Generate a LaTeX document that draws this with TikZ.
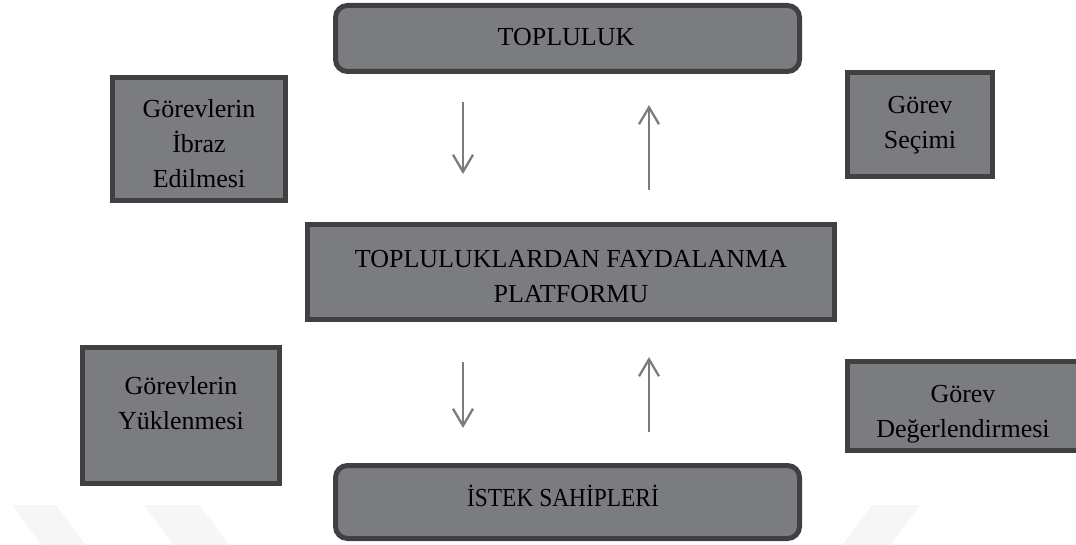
\documentclass[tikz,border=0pt]{standalone}
\usepackage{fontspec}
\setmainfont{Liberation Serif}
\newfontfamily\istekfont[FakeStretch=0.9]{Liberation Serif}
\usetikzlibrary{arrows.meta}
\definecolor{boxfill}{HTML}{7B7C80}
\definecolor{boxline}{HTML}{404042}
\definecolor{arrowgray}{HTML}{7B7C80}
\definecolor{wmark}{HTML}{F6F6F6}
\begin{document}
\begin{tikzpicture}[x=1pt,y=-1pt,
  box/.style={draw=boxline, fill=boxfill, line width=5pt, inner sep=0pt},
  roundbox/.style={box, rounded corners=12pt},
  lbl/.style={inner sep=0pt, align=center, font=\fontsize{26}{35}\selectfont, text=black},
  flow/.style={draw=arrowgray, line width=2.3pt,
    -{Straight Barb[length=17pt,width=20pt,line width=2.3pt]}}]
\clip (0,0) rectangle (1076,545);
\fill[white] (0,0) rectangle (1076,545);
% faint watermark stripes
\fill[wmark] (12,505) -- (56,505) -- (86,545) -- (42,545) -- cycle;
\fill[wmark] (144,505) -- (199,505) -- (229,545) -- (174,545) -- cycle;
\fill[wmark] (872,505) -- (920,505) -- (890,545) -- (842,545) -- cycle;
% boxes
\node[roundbox, minimum width=464pt, minimum height=66pt] (topluluk) at (567.5,38.5) {};
\node[lbl] (topluluk-t) at (566,37.5) {TOPLULUK};
\node[box, minimum width=173pt, minimum height=123pt] (ibraz) at (199,139) {};
\node[lbl] (ibraz-t) at (199,144) {Görevlerin\\İbraz\\Edilmesi};
\node[box, minimum width=145pt, minimum height=104pt] (secim) at (920,124.5) {};
\node[lbl] (secim-t) at (920,125) {Görev\\Seçimi};
\node[box, minimum width=527pt, minimum height=95pt] (platform) at (571,272) {};
\node[lbl] (platform-t) at (571,276.5) {TOPLULUKLARDAN FAYDALANMA\\PLATFORMU};
\node[box, minimum width=197pt, minimum height=136pt] (yuklenme) at (181,415.5) {};
\node[lbl] (yuklenme-t) at (181,403.5) {Görevlerin\\Yüklenmesi};
\node[box, minimum width=231pt, minimum height=89pt] (degerlendirme) at (963,406) {};
\node[lbl] (degerlendirme-t) at (963,414) {Görev\\Değerlendirmesi};
\node[roundbox, minimum width=464pt, minimum height=73pt] (istek) at (567.5,502) {};
\node[lbl, font=\istekfont\fontsize{26}{35}\selectfont] (istek-t) at (563,496) {İSTEK SAHİPLERİ};
% arrows
\coordinate (a1s) at (463,102); \coordinate (a1e) at (463,174);
\coordinate (a2s) at (649,190); \coordinate (a2e) at (649,105);
\coordinate (a3s) at (463,362); \coordinate (a3e) at (463,428);
\coordinate (a4s) at (649,432); \coordinate (a4e) at (649,357);
\draw[flow] (a1s) -- (a1e);
\draw[flow] (a2s) -- (a2e);
\draw[flow] (a3s) -- (a3e);
\draw[flow] (a4s) -- (a4e);
\end{tikzpicture}
\end{document}
